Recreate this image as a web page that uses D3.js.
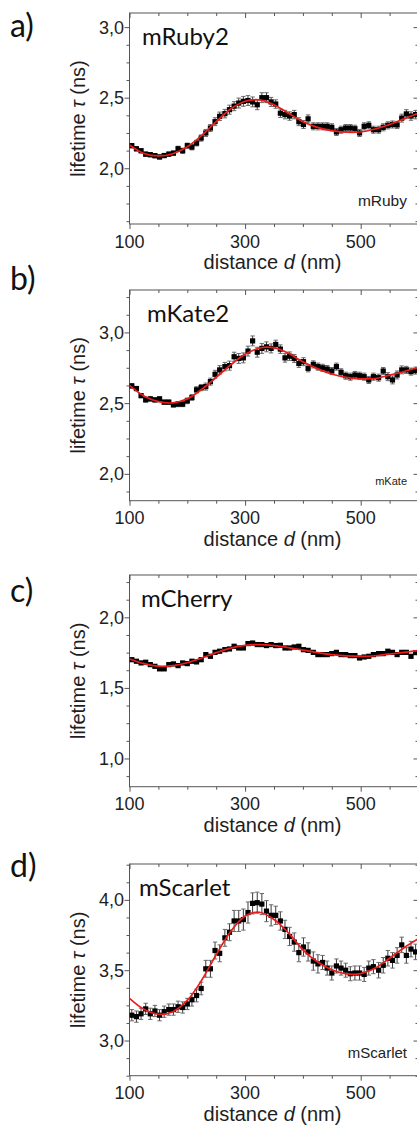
<!DOCTYPE html>
<html>
<head>
<meta charset="utf-8">
<script src="https://cdn.jsdelivr.net/npm/d3@7"></script>
<style>
  body { margin: 0; background: #fff; }
  svg { display: block; }
</style>
</head>
<body>
<svg id="viz_area" width="417" height="1128"></svg>
<script>
// measured distances (nm), same grid for all four proteins
const distances = [104, 112, 120, 128, 136, 144, 152, 160, 168, 176,
  184, 192, 200, 208, 216, 224, 232, 240, 248, 256,
  265, 273, 281, 289, 297, 305, 313, 321, 329, 337,
  345, 353, 361, 369, 377, 385, 393, 401, 409, 418,
  426, 434, 442, 450, 458, 466, 474, 482, 490, 498,
  506, 514, 522, 531, 539, 547, 555, 563, 571, 579,
  587, 595]

// distances where the fitted curves are sampled
const fitDistances = [100, 125, 150, 175, 200, 225, 250, 275, 300, 325, 350,
  375, 400, 425, 450, 475, 500, 525, 550, 575, 600]

const xTicks = [100, 300, 500]
const xMinorTicks = [150, 200, 250, 350, 400, 450, 550, 600]

// a) mRuby2
const mRuby2Lifetime = [2.16, 2.138, 2.124, 2.10, 2.096, 2.089, 2.08, 2.09, 2.10, 2.107,
  2.138, 2.124, 2.16, 2.15, 2.178, 2.214, 2.25, 2.285, 2.33, 2.368,
  2.387, 2.415, 2.44, 2.462, 2.474, 2.48, 2.47, 2.45, 2.50, 2.50,
  2.47, 2.455, 2.39, 2.38, 2.37, 2.38, 2.33, 2.31, 2.35, 2.297,
  2.297, 2.297, 2.297, 2.29, 2.257, 2.273, 2.285, 2.285, 2.28, 2.25,
  2.297, 2.304, 2.273, 2.273, 2.29, 2.304, 2.31, 2.307, 2.355, 2.385,
  2.37, 2.38]
const mRuby2Error = [0.015, 0.015, 0.015, 0.015, 0.015, 0.015, 0.015, 0.015, 0.015, 0.015,
  0.018, 0.018, 0.018, 0.02, 0.02, 0.022, 0.025, 0.025, 0.028, 0.03,
  0.03, 0.032, 0.032, 0.035, 0.035, 0.035, 0.035, 0.035, 0.035, 0.035,
  0.032, 0.03, 0.03, 0.03, 0.03, 0.03, 0.028, 0.028, 0.028, 0.025,
  0.025, 0.025, 0.025, 0.025, 0.025, 0.025, 0.025, 0.025, 0.025, 0.025,
  0.025, 0.025, 0.025, 0.025, 0.025, 0.025, 0.025, 0.025, 0.028, 0.03,
  0.03, 0.03]
const mRuby2Fit = [2.165, 2.105, 2.087, 2.103, 2.152, 2.232, 2.33, 2.42, 2.475, 2.485, 2.45,
  2.39, 2.33, 2.29, 2.266, 2.255, 2.257, 2.278, 2.31, 2.35, 2.39]
const mRuby2YTicks = [2.0, 2.5, 3.0]

// b) mKate2
const mKate2Lifetime = [2.622, 2.603, 2.553, 2.523, 2.53, 2.523, 2.53, 2.507, 2.507, 2.488,
  2.493, 2.493, 2.516, 2.54, 2.594, 2.61, 2.617, 2.652, 2.704, 2.735,
  2.758, 2.765, 2.828, 2.816, 2.82, 2.868, 2.94, 2.86, 2.887, 2.898,
  2.887, 2.915, 2.882, 2.82, 2.832, 2.816, 2.781, 2.793, 2.746, 2.774,
  2.758, 2.75, 2.741, 2.727, 2.758, 2.718, 2.694, 2.687, 2.699, 2.694,
  2.687, 2.664, 2.687, 2.68, 2.727, 2.687, 2.664, 2.699, 2.735, 2.735,
  2.723, 2.73]
const mKate2Error = [0.015, 0.015, 0.015, 0.015, 0.015, 0.015, 0.015, 0.015, 0.015, 0.015,
  0.018, 0.018, 0.02, 0.02, 0.022, 0.022, 0.025, 0.025, 0.028, 0.03,
  0.03, 0.032, 0.032, 0.035, 0.035, 0.035, 0.035, 0.035, 0.035, 0.035,
  0.032, 0.03, 0.03, 0.03, 0.03, 0.028, 0.028, 0.028, 0.025, 0.025,
  0.025, 0.025, 0.025, 0.025, 0.025, 0.025, 0.025, 0.025, 0.025, 0.025,
  0.025, 0.025, 0.025, 0.025, 0.025, 0.028, 0.028, 0.028, 0.028, 0.025,
  0.025, 0.025]
const mKate2Fit = [2.626, 2.551, 2.511, 2.502, 2.53, 2.598, 2.682, 2.77, 2.845, 2.89, 2.892,
  2.852, 2.792, 2.744, 2.706, 2.682, 2.672, 2.674, 2.698, 2.724, 2.752]
const mKate2YTicks = [2.0, 2.5, 3.0]

// c) mCherry
const mCherryLifetime = [1.70, 1.689, 1.677, 1.682, 1.665, 1.653, 1.635, 1.635, 1.665, 1.67,
  1.658, 1.677, 1.672, 1.689, 1.684, 1.70, 1.736, 1.724, 1.752, 1.76,
  1.771, 1.776, 1.795, 1.783, 1.783, 1.814, 1.818, 1.807, 1.807, 1.80,
  1.807, 1.80, 1.802, 1.783, 1.783, 1.79, 1.795, 1.771, 1.766, 1.752,
  1.736, 1.736, 1.736, 1.743, 1.752, 1.736, 1.736, 1.729, 1.729, 1.712,
  1.719, 1.724, 1.736, 1.743, 1.743, 1.76, 1.752, 1.736, 1.752, 1.752,
  1.724, 1.75]
const mCherryError = [0.008, 0.008, 0.008, 0.008, 0.008, 0.008, 0.008, 0.008, 0.008, 0.008,
  0.008, 0.008, 0.008, 0.008, 0.008, 0.009, 0.009, 0.009, 0.01, 0.01,
  0.01, 0.01, 0.01, 0.01, 0.01, 0.01, 0.01, 0.01, 0.01, 0.01,
  0.01, 0.01, 0.01, 0.01, 0.01, 0.01, 0.01, 0.01, 0.01, 0.01,
  0.009, 0.009, 0.009, 0.009, 0.009, 0.009, 0.009, 0.009, 0.009, 0.009,
  0.009, 0.009, 0.009, 0.009, 0.009, 0.01, 0.01, 0.01, 0.01, 0.01,
  0.01, 0.01]
const mCherryFit = [1.705, 1.672, 1.654, 1.658, 1.678, 1.712, 1.75, 1.782, 1.802, 1.807, 1.80,
  1.786, 1.768, 1.75, 1.736, 1.727, 1.724, 1.728, 1.74, 1.752, 1.765]
const mCherryYTicks = [1.0, 1.5, 2.0]

// d) mScarlet
const mScarletLifetime = [3.18, 3.17, 3.19, 3.225, 3.19, 3.21, 3.18, 3.205, 3.22, 3.22,
  3.24, 3.235, 3.26, 3.29, 3.32, 3.37, 3.51, 3.51, 3.64, 3.62,
  3.73, 3.77, 3.85, 3.85, 3.86, 3.91, 3.975, 3.98, 3.97, 3.92,
  3.89, 3.89, 3.85, 3.79, 3.74, 3.70, 3.625, 3.665, 3.63, 3.565,
  3.545, 3.555, 3.515, 3.48, 3.53, 3.515, 3.50, 3.475, 3.48, 3.48,
  3.47, 3.515, 3.525, 3.50, 3.535, 3.585, 3.57, 3.605, 3.68, 3.605,
  3.65, 3.63]
const mScarletError = [0.04, 0.04, 0.04, 0.04, 0.04, 0.04, 0.04, 0.04, 0.04, 0.04,
  0.04, 0.04, 0.04, 0.045, 0.045, 0.045, 0.06, 0.06, 0.06, 0.06,
  0.06, 0.06, 0.075, 0.075, 0.075, 0.075, 0.075, 0.075, 0.075, 0.075,
  0.075, 0.065, 0.065, 0.065, 0.065, 0.065, 0.065, 0.065, 0.065, 0.065,
  0.065, 0.05, 0.05, 0.05, 0.05, 0.05, 0.05, 0.05, 0.05, 0.05,
  0.05, 0.05, 0.05, 0.055, 0.055, 0.055, 0.055, 0.055, 0.055, 0.055,
  0.055, 0.055]
const mScarletFit = [3.30, 3.222, 3.187, 3.205, 3.285, 3.43, 3.61, 3.775, 3.885, 3.912, 3.86,
  3.765, 3.645, 3.56, 3.503, 3.474, 3.476, 3.515, 3.585, 3.66, 3.725]
const mScarletYTicks = [3.0, 3.5, 4.0]

// layout of the four stacked panels
const plotLeft = 129.5
const plotRight = 418.5
const axisColor = '#555'
const textColor = '#1e1e1e'
const tickFont = '"Liberation Sans", Arial, sans-serif'
const labelFont = 'Lato, "Open Sans", sans-serif'

const panels = [
  { letter: 'a)', name: 'mRuby2', tag: 'mRuby', values: mRuby2Lifetime, errors: mRuby2Error,
    fit: mRuby2Fit, yTicks: mRuby2YTicks, yDomain: [1.605, 3.10], top: 13, bottom: 224,
    letterY: 37, nameX: 142, tagSize: 15.5, tagY: 206 },
  { letter: 'b)', name: 'mKate2', tag: 'mKate', values: mKate2Lifetime, errors: mKate2Error,
    fit: mKate2Fit, yTicks: mKate2YTicks, yDomain: [1.81, 3.30], top: 290, bottom: 500.7,
    letterY: 290, nameX: 147, tagSize: 11, tagY: 485 },
  { letter: 'c)', name: 'mCherry', tag: '', values: mCherryLifetime, errors: mCherryError,
    fit: mCherryFit, yTicks: mCherryYTicks, yDomain: [0.80, 2.30], top: 575, bottom: 786.7,
    letterY: 602, nameX: 141, tagSize: 0, tagY: 0 },
  { letter: 'd)', name: 'mScarlet', tag: 'mScarlet', values: mScarletLifetime, errors: mScarletError,
    fit: mScarletFit, yTicks: mScarletYTicks, yDomain: [2.75, 4.255], top: 864, bottom: 1075.7,
    letterY: 877, nameX: 139, tagSize: 15, tagY: 1058 }
]

const commaFormat = function (d) { return d3.format('.1f')(d).replace('.', ',') }

const svg = d3.select('#viz_area')

panels.forEach(function (p, i) { drawPanel(p, i) })

function drawPanel(p, i) {
  const g = svg.append('g').attr('class', 'panel')

  const xScale = d3.scaleLinear()
    .domain([100, 600])
    .range([plotLeft, plotRight])

  const yScale = d3.scaleLinear()
    .domain(p.yDomain)
    .range([p.bottom, p.top])

  const clipId = 'clip' + i
  g.append('clipPath').attr('id', clipId)
    .append('rect')
    .attr('x', plotLeft).attr('y', p.top)
    .attr('width', plotRight - plotLeft).attr('height', p.bottom - p.top)

  drawAxes(g, p, xScale, yScale)

  // error bars
  const bars = g.append('g').attr('clip-path', 'url(#' + clipId + ')')
  const points = distances.map(function (d, k) {
    return { d: d, v: p.values[k], e: p.errors[k] }
  })
  bars.selectAll('line.err')
    .data(points)
    .enter().append('line')
    .attr('class', 'err')
    .attr('x1', function (d) { return xScale(d.d) })
    .attr('x2', function (d) { return xScale(d.d) })
    .attr('y1', function (d) { return yScale(d.v - d.e) })
    .attr('y2', function (d) { return yScale(d.v + d.e) })
    .attr('stroke', '#3a3a3a')
    .attr('stroke-width', 1)
  ;[-1, 1].forEach(function (sign) {
    bars.selectAll('line.cap' + sign)
      .data(points)
      .enter().append('line')
      .attr('x1', function (d) { return xScale(d.d) - 2.2 })
      .attr('x2', function (d) { return xScale(d.d) + 2.2 })
      .attr('y1', function (d) { return yScale(d.v + sign * d.e) })
      .attr('y2', function (d) { return yScale(d.v + sign * d.e) })
      .attr('stroke', '#6a6a6a')
      .attr('stroke-width', 1)
  })

  // square markers
  bars.selectAll('rect.pt')
    .data(points)
    .enter().append('rect')
    .attr('class', 'pt')
    .attr('x', function (d) { return xScale(d.d) - 2.6 })
    .attr('y', function (d) { return yScale(d.v) - 2.6 })
    .attr('width', 5.2)
    .attr('height', 5.2)
    .attr('fill', '#000')

  // fitted curve
  const line = d3.line()
    .x(function (d, k) { return xScale(fitDistances[k]) })
    .y(function (d) { return yScale(d) })
    .curve(d3.curveCatmullRom.alpha(0.5))

  g.append('path')
    .attr('clip-path', 'url(#' + clipId + ')')
    .attr('d', line(p.fit))
    .attr('fill', 'none')
    .attr('stroke', '#ec1c1c')
    .attr('stroke-width', 1.7)

  // texts
  g.append('text')
    .attr('x', 10).attr('y', p.letterY)
    .attr('font-family', labelFont).attr('font-size', 32)
    .attr('fill', '#111')
    .text(p.letter)

  g.append('text')
    .attr('x', p.nameX).attr('y', p.top + 32)
    .attr('font-family', labelFont).attr('font-size', 24)
    .attr('fill', '#111')
    .text(p.name)

  if (p.tag) {
    g.append('text')
      .attr('x', 407).attr('y', p.tagY)
      .attr('text-anchor', 'end')
      .attr('font-family', tickFont).attr('font-size', p.tagSize)
      .attr('fill', '#222')
      .text(p.tag)
  }

  const xTitle = g.append('text')
    .attr('x', (plotLeft + 416.5) / 2 - 0.5).attr('y', p.bottom + 45)
    .attr('text-anchor', 'middle')
    .attr('font-family', tickFont).attr('font-size', 20)
    .attr('fill', textColor)
  xTitle.append('tspan').text('distance ')
  xTitle.append('tspan').attr('font-style', 'italic').text('d')
  xTitle.append('tspan').text(' (nm)')

  const yTitle = g.append('text')
    .attr('transform', 'translate(85,' + ((p.top + p.bottom) / 2) + ') rotate(-90)')
    .attr('text-anchor', 'middle')
    .attr('font-family', tickFont).attr('font-size', 20)
    .attr('fill', textColor)
  yTitle.append('tspan').text('lifetime ')
  yTitle.append('tspan').attr('font-style', 'italic').text('τ')
  yTitle.append('tspan').text(' (ns)')
}

function drawAxes(g, p, xScale, yScale) {
  const lo = p.yDomain[0]
  const hi = p.yDomain[1]
  const yMinor = d3.range(Math.ceil(lo / 0.125) * 0.125, hi, 0.125)
    .filter(function (v) { return p.yTicks.indexOf(Math.round(v * 1000) / 1000) < 0 })

  const axes = [
    { axis: d3.axisBottom(xScale).tickValues(xTicks).tickSize(5), t: 'translate(0,' + p.bottom + ')' },
    { axis: d3.axisBottom(xScale).tickValues(xMinorTicks).tickSize(3), t: 'translate(0,' + p.bottom + ')' },
    { axis: d3.axisTop(xScale).tickValues(xTicks).tickSize(-5), t: 'translate(0,' + p.top + ')' },
    { axis: d3.axisTop(xScale).tickValues(xMinorTicks).tickSize(-3), t: 'translate(0,' + p.top + ')' },
    { axis: d3.axisLeft(yScale).tickValues(p.yTicks).tickSize(5), t: 'translate(' + plotLeft + ',0)' },
    { axis: d3.axisLeft(yScale).tickValues(yMinor).tickSize(3), t: 'translate(' + plotLeft + ',0)' },
    { axis: d3.axisRight(yScale).tickValues(p.yTicks).tickSize(-5), t: 'translate(' + plotRight + ',0)' },
    { axis: d3.axisRight(yScale).tickValues(yMinor).tickSize(-3), t: 'translate(' + plotRight + ',0)' }
  ]

  axes.forEach(function (a) {
    const ax = g.append('g')
      .attr('transform', a.t)
      .call(a.axis.tickFormat(''))
    ax.select('.domain').remove()
    ax.selectAll('line').attr('stroke', axisColor)
  })

  // frame
  g.append('rect')
    .attr('x', plotLeft).attr('y', p.top)
    .attr('width', plotRight - plotLeft).attr('height', p.bottom - p.top)
    .attr('fill', 'none')
    .attr('stroke', axisColor)
    .attr('stroke-width', 1)

  g.selectAll('text.xlab')
    .data(xTicks)
    .enter().append('text')
    .attr('class', 'xlab')
    .attr('x', function (d) { return xScale(d) })
    .attr('y', p.bottom + 23.5)
    .attr('text-anchor', 'middle')
    .attr('font-family', tickFont).attr('font-size', 18)
    .attr('fill', textColor)
    .text(function (d) { return d })

  g.selectAll('text.ylab')
    .data(p.yTicks)
    .enter().append('text')
    .attr('class', 'ylab')
    .attr('x', 124)
    .attr('y', function (d) { return yScale(d) })
    .attr('dy', '0.36em')
    .attr('text-anchor', 'end')
    .attr('font-family', tickFont).attr('font-size', 18)
    .attr('fill', textColor)
    .text(commaFormat)
}
</script>
</body>
</html>
